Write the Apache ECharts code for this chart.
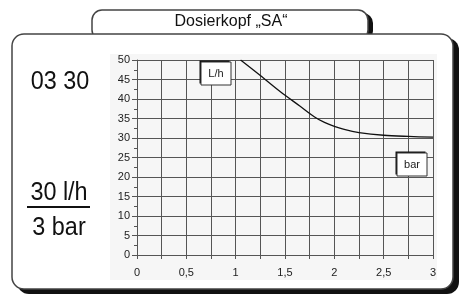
<!DOCTYPE html>
<html>
<head>
<meta charset="utf-8">
<script src="https://cdn.jsdelivr.net/npm/echarts@6/dist/echarts.min.js"></script>
<style>
  html, body { margin: 0; padding: 0; background: #fff; }
  #chart { width: 465px; height: 296px; }
</style>
</head>
<body>
<div id="chart"></div>
<script>
// Kennlinie Dosierkopf SA: Druck (bar) gegen Förderleistung (l/h)
var pressure = [1.05, 1.25, 1.45, 1.65, 1.8, 1.9, 2, 2.1, 2.25, 2.5, 2.75, 3];
var flow = [50, 46, 41.9, 38.2, 35.4, 34, 33, 32.2, 31.4, 30.7, 30.4, 30.2];
var xTicks = [0, 0.5, 1, 1.5, 2, 2.5, 3];
var yTicks = [0, 5, 10, 15, 20, 25, 30, 35, 40, 45, 50];

var font = 'Liberation Sans, Arial, sans-serif';
var lineColor = '#555';

var chart = echarts.init(document.getElementById('chart'));

// kleines Kästchen mit Schatten oben links (Achsen-Einheit)
function unitBox(x, y, w, h, txt) {
    return [
        { type: 'rect', z: 20, shape: { x: x - 1.5, y: y - 1.5, width: w, height: h }, style: { fill: '#111' } },
        { type: 'rect', z: 21, shape: { x: x, y: y, width: w, height: h }, style: { fill: '#fff', stroke: '#333', lineWidth: 1 } },
        { type: 'text', z: 22, x: x + w / 2, y: y + h / 2, style: { text: txt, fill: '#222', font: '11px ' + font, align: 'center', verticalAlign: 'middle' } }
    ];
}

// schmale, hohe Schrift wie im Original
function bigText(x, y, txt) {
    return { type: 'text', z: 5, x: x, y: y, scaleX: 0.9, style: { text: txt, fill: '#111', font: '26px ' + font, align: 'center', verticalAlign: 'middle' } };
}

var graphics = [
    // Reiter oben
    { type: 'rect', z: -20, shape: { x: 96, y: 13, width: 277, height: 28, r: 10 }, style: { fill: '#111' } },
    { type: 'rect', z: -19, shape: { x: 92, y: 10, width: 276, height: 30, r: 10 }, style: { fill: '#fff', stroke: '#444', lineWidth: 1.5 } },
    { type: 'text', z: -18, x: 231, y: 22, style: { text: 'Dosierkopf \u201eSA\u201c', fill: '#111', font: '16px ' + font, align: 'center', verticalAlign: 'middle' } },
    // Rahmen
    { type: 'rect', z: -17, shape: { x: 17, y: 38, width: 442, height: 256, r: 12 }, style: { fill: '#111' } },
    { type: 'rect', z: -16, shape: { x: 12, y: 34, width: 441, height: 255, r: 12 }, style: { fill: '#fff', stroke: '#444', lineWidth: 1.5 } },
    // grauer Diagrammhintergrund
    { type: 'rect', z: -15, shape: { x: 110, y: 54, width: 327, height: 226 }, style: { fill: '#f6f6f6' } },
    // Typ / Leistung links
    bigText(60, 82, '03 30'),
    bigText(59, 193, '30 l/h'),
    { type: 'rect', z: 5, shape: { x: 27, y: 206, width: 63, height: 2 }, style: { fill: '#111' } },
    bigText(59, 228, '3 bar')
].concat(unitBox(201, 62, 30, 23, 'L/h'), unitBox(397, 153, 30, 23, 'bar'));

chart.setOption({
    animation: false,
    grid: { left: 137, right: 32, top: 60, bottom: 41, show: false },
    graphic: graphics,
    xAxis: {
        type: 'value',
        min: 0,
        max: 3,
        interval: 0.25,
        axisLine: { show: true, onZero: false, lineStyle: { color: lineColor, width: 1 } },
        axisTick: { show: true, length: 4, inside: false, lineStyle: { color: lineColor } },
        splitLine: { show: true, lineStyle: { color: lineColor, width: 1 } },
        axisLabel: {
            margin: 12,
            color: '#222',
            fontFamily: font,
            fontSize: 11,
            formatter: function (v) {
                for (var i = 0; i < xTicks.length; i++) {
                    if (Math.abs(xTicks[i] - v) < 1e-6) return String(xTicks[i]).replace('.', ',');
                }
                return '';
            }
        }
    },
    yAxis: {
        type: 'value',
        min: yTicks[0],
        max: yTicks[yTicks.length - 1],
        interval: 5,
        axisLine: { show: true, onZero: false, lineStyle: { color: lineColor, width: 1 } },
        axisTick: { show: true, length: 5, lineStyle: { color: lineColor } },
        minorTick: { show: true, splitNumber: 2, length: 3, lineStyle: { color: lineColor } },
        splitLine: { show: true, lineStyle: { color: lineColor, width: 1 } },
        axisLabel: { margin: 7, color: '#222', fontFamily: font, fontSize: 11 }
    },
    series: [{
        type: 'line',
        data: pressure.map(function (p, i) { return [p, flow[i]]; }),
        smooth: 0.3,
        showSymbol: false,
        lineStyle: { color: '#111', width: 1.3 },
        z: 5
    }]
});
</script>
</body>
</html>
